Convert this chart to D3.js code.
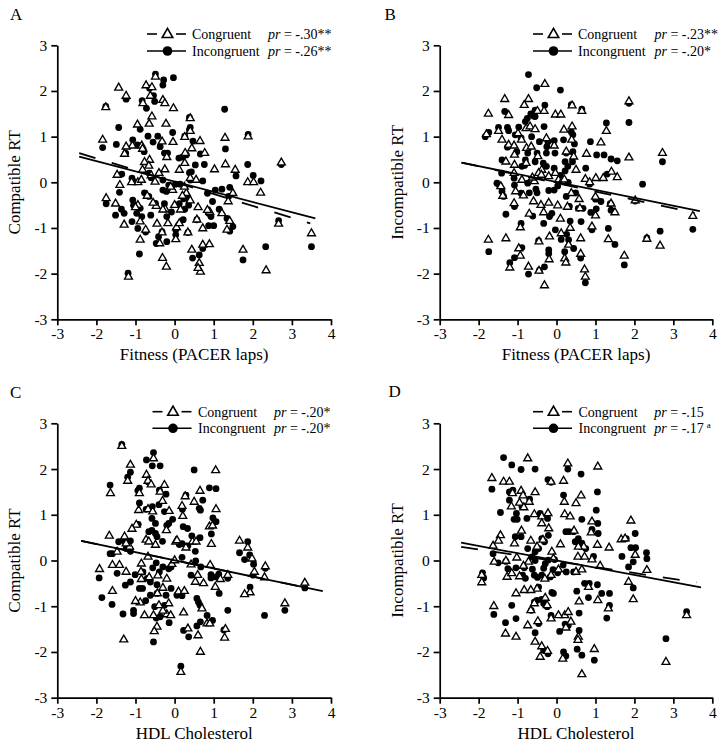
<!DOCTYPE html>
<html><head><meta charset="utf-8">
<script src="https://cdn.jsdelivr.net/npm/d3@7"></script>
<style>
body{margin:0;background:#fff}
svg text{font-family:"Liberation Serif","Times New Roman",serif;fill:#000}
</style></head>
<body><svg id="chart" width="724" height="750"></svg>
<script>
// ---------- data ----------
const panelLetters = ["A", "B", "C", "D"];
const xTitles = ["Fitness (PACER laps)", "Fitness (PACER laps)", "HDL Cholesterol", "HDL Cholesterol"];
const yTitles = ["Compatible RT", "Incompatible RT", "Compatible RT", "Incompatible RT"];
const xTicks = [-3, -2, -1, 0, 1, 2, 3, 4];
const yTicks = [-3, -2, -1, 0, 1, 2, 3];
const seriesNames = ["Congruent", "Incongruent"];
const prCongruent = ["-.30**", "-.23**", "-.20*", "-.15"];
const prIncongruent = ["-.26**", "-.20*", "-.20*", "-.17"];
const prIncongruentSup = ["", "", "", "a"];

const aCongruent = [[-0.49,2.31],[-1.43,2.07],[-0.73,2.12],[-0.58,2.08],[-1.24,1.89],[-1.76,1.64],[-0.81,1.73],[-0.62,1.89],[-0.3,1.8],[-0.25,1.73],[-0.03,1.62],[-0.58,1.44],[-0.65,1.28],[-0.22,1.28],[0.4,1.4],[0.4,1.12],[-0.95,1.26],[0.26,0.99],[1.88,1.0],[-1.84,0.93],[-1.08,0.8],[-0.84,0.8],[-0.32,0.89],[-0.04,0.88],[0.65,0.9],[0.77,0.64],[0.44,0.74],[1.29,0.97],[-1.24,0.78],[-1.28,0.62],[-0.82,0.73],[-0.64,0.49],[-0.77,0.44],[0.27,0.64],[0.26,0.42],[1.3,0.39],[1.02,0.28],[2.73,0.43],[1.55,0.27],[-1.47,0.16],[-0.82,0.27],[-0.66,0.36],[-0.25,0.28],[0.12,0.27],[-0.94,0.0],[-0.5,0.01],[-0.05,-0.17],[0.4,0.09],[1.87,0.0],[2.02,0.0],[2.2,-0.23],[-1.4,-0.06],[-1.75,-0.35],[-1.51,-0.47],[-1.29,-0.93],[-0.94,-0.5],[-0.88,-0.86],[-0.74,-1.04],[-0.88,-1.26],[-1.18,-2.07],[-0.7,-0.3],[-0.47,-0.52],[-0.45,-0.91],[-0.24,-0.59],[-0.17,-0.9],[-0.32,-1.1],[-0.38,-1.34],[-0.31,-1.66],[-0.21,-1.85],[0.05,-0.99],[0.03,-1.25],[0.12,-0.9],[0.3,-0.24],[0.4,-0.4],[0.2,-0.3],[0.34,-1.1],[0.57,-0.82],[0.72,-1.01],[0.9,-0.65],[0.84,-0.61],[1.49,-0.24],[1.37,-0.42],[1.21,-0.68],[1.41,-0.85],[1.34,-1.04],[0.44,-1.48],[0.72,-1.37],[0.89,-1.36],[0.63,-1.77],[0.66,-1.96],[0.6,-1.88],[1.75,-1.48],[2.34,-1.93],[2.66,-0.91],[3.5,-1.12],[-0.85,0.05],[-0.6,0.15],[-0.4,0.2],[-0.1,-0.1],[0.25,-0.1],[0.55,0.05],[-1.0,-0.55],[-0.55,-0.45],[0.0,-0.5],[-1.1,0.0],[-0.2,0.55],[0.15,-0.6],[0.6,-0.55],[-0.3,-0.6]];
const aIncongruent = [[-0.49,2.37],[-0.28,2.24],[-0.03,2.29],[-0.3,2.13],[-0.64,2.06],[-1.24,1.82],[-1.76,1.66],[-0.83,1.79],[-0.54,1.9],[-0.51,1.77],[1.28,1.6],[-0.72,1.62],[0.38,1.42],[0.4,1.2],[0.38,1.15],[-1.43,1.2],[-0.88,1.16],[-0.05,1.09],[0.26,1.01],[1.88,1.05],[-1.84,0.76],[-1.49,0.83],[-1.07,0.93],[-0.95,0.82],[-0.68,1.01],[-0.55,0.88],[-0.43,1.01],[-0.37,0.78],[-0.26,0.64],[-0.18,0.64],[0.66,0.62],[0.47,0.9],[1.3,0.73],[-1.25,0.64],[-0.78,0.67],[0.11,0.53],[0.2,0.55],[0.3,0.6],[0.53,0.38],[0.76,0.39],[1.87,0.39],[2.73,0.39],[1.57,0.14],[2.01,0.15],[-1.35,0.18],[-0.65,0.2],[-0.6,0.1],[0.38,0.21],[0.43,0.23],[-1.09,0.09],[-1.02,0.01],[-0.3,0.05],[-0.15,-0.06],[0.02,-0.04],[0.14,-0.04],[0.4,0.05],[0.72,0.03],[2.21,0.03],[-1.41,-0.22],[-1.75,-0.47],[-1.51,-0.72],[-1.36,-0.59],[-1.29,-0.68],[-1.07,-0.39],[-1.05,-0.5],[-0.88,-0.57],[-0.84,-0.75],[-0.97,-0.68],[-1.09,-0.86],[-0.94,-1.01],[-0.74,-1.09],[-0.9,-1.57],[-1.19,-1.99],[-0.77,-0.23],[-0.66,-0.31],[-0.49,-0.46],[-0.61,-0.72],[-0.3,-0.17],[-0.21,-0.2],[-0.26,-0.47],[-0.2,-0.75],[-0.08,-0.65],[-0.32,-1.08],[-0.41,-1.19],[-0.47,-1.34],[-0.2,-1.3],[0.03,-1.04],[0.03,-1.15],[0.12,-0.47],[0.23,-0.36],[0.36,-0.37],[0.36,-0.5],[0.26,-0.59],[0.22,-0.82],[0.34,-1.1],[0.57,-0.82],[0.87,-0.68],[0.93,-0.75],[0.87,-0.95],[1.0,-0.95],[0.97,-0.42],[0.84,-0.24],[1.04,-0.17],[1.21,-0.15],[1.41,-0.11],[1.38,-0.31],[1.14,-0.59],[1.34,-0.79],[1.41,-1.07],[1.49,-0.97],[0.46,-1.66],[0.72,-1.45],[0.63,-1.59],[1.75,-1.7],[2.33,-1.41],[2.66,-0.84],[3.5,-1.41]];

const bCongruent = [[-0.3,2.15],[-1.33,1.82],[-0.72,1.82],[-0.83,1.69],[-0.49,1.56],[-0.32,1.56],[0.4,1.68],[0.65,1.56],[-1.75,1.5],[-1.23,1.47],[-0.03,1.48],[0.11,1.48],[1.86,1.77],[1.28,1.12],[1.14,0.87],[-1.8,1.05],[-1.49,1.12],[-1.4,0.93],[-1.23,0.82],[-0.99,1.07],[-0.9,0.93],[-1.09,0.8],[-1.08,0.6],[-0.78,1.18],[-0.68,1.22],[-0.55,1.16],[-0.77,0.75],[-0.65,0.78],[-0.26,0.96],[-0.06,0.8],[0.19,1.15],[0.4,1.22],[0.39,0.93],[0.44,0.56],[0.25,0.67],[-0.48,0.57],[-0.38,0.27],[-0.46,0.2],[-0.78,0.42],[-1.08,0.38],[-1.3,0.45],[-1.09,0.2],[0.77,0.62],[0.74,0.07],[1.01,0.09],[1.2,0.09],[1.41,0.23],[1.56,0.11],[1.86,0.54],[2.72,0.64],[2.02,-0.4],[2.32,-1.24],[2.66,-1.39],[3.5,-0.74],[1.74,-1.61],[1.33,-1.25],[1.5,-0.66],[1.4,-0.47],[1.0,-0.32],[1.0,-0.73],[0.91,-0.97],[0.85,0.0],[0.5,0.27],[0.6,-0.57],[0.58,-0.37],[0.62,-1.23],[0.62,-1.57],[0.72,-1.91],[0.74,-2.07],[0.38,-0.24],[0.28,-0.54],[0.35,-1.0],[0.12,-1.12],[0.31,-1.37],[0.21,-1.67],[0.24,-1.76],[-0.19,-1.69],[-0.18,-1.19],[-0.45,-1.3],[-0.72,-1.85],[-0.45,-1.94],[-0.31,-2.26],[-0.93,-1.61],[-0.97,-1.45],[-1.2,-1.87],[-1.3,-1.23],[-1.75,-1.26],[-0.93,-0.99],[-1.09,-0.46],[-0.85,-0.29],[-0.59,-0.42],[-0.57,0.02],[-1.05,-0.2],[0.05,0.05],[0.14,0.02],[0.2,0.06],[-0.33,-0.66],[0.03,-0.51],[-1.43,-0.09],[-1.38,-0.3],[-0.89,0.05],[-0.62,0.1],[-0.39,0.16],[-0.2,0.13],[-0.03,0.2],[-0.7,-0.69],[-0.2,-0.45],[0.1,-0.8],[-0.4,-0.5]];
const bIncongruent = [[-0.72,2.36],[-0.51,2.07],[0.1,2.02],[-0.55,1.58],[-0.3,1.69],[0.38,1.7],[0.65,1.6],[-1.33,1.55],[-0.66,1.5],[-0.59,1.45],[-0.55,1.44],[-0.8,1.33],[-0.75,1.4],[1.86,1.73],[1.86,1.31],[1.28,1.3],[0.87,0.89],[-1.83,1.0],[-1.74,1.09],[-1.49,1.2],[-1.26,1.2],[-1.23,1.13],[-1.26,0.77],[-0.97,1.21],[-1.06,1.04],[-0.91,0.97],[-1.02,0.67],[-0.64,1.0],[-0.74,0.64],[-0.8,0.49],[-0.32,1.22],[-0.44,0.89],[-0.25,0.78],[-0.22,0.89],[-0.06,0.91],[0.18,0.93],[0.38,1.1],[0.42,1.04],[0.46,0.84],[0.42,0.67],[0.41,0.45],[0.25,0.64],[-0.04,0.64],[-0.26,0.64],[-0.5,0.64],[-0.34,0.42],[-0.26,0.35],[-0.55,0.45],[-0.89,0.35],[-0.82,0.37],[-1.4,0.49],[-1.41,0.2],[0.22,0.45],[0.29,0.35],[0.22,0.25],[0.75,0.31],[1.03,0.6],[1.22,0.6],[1.3,0.18],[1.4,0.51],[1.56,0.47],[2.72,0.45],[2.21,-0.04],[2.02,-0.41],[2.32,-1.22],[2.66,-1.07],[3.5,-1.03],[1.74,-1.81],[1.33,-1.01],[1.5,-1.36],[1.4,-0.61],[1.38,-0.47],[1.14,-0.42],[1.0,-0.37],[1.02,-0.58],[0.88,-0.66],[0.91,-1.04],[0.85,-0.04],[0.68,-0.57],[0.56,-0.57],[0.63,-0.86],[0.62,-1.66],[0.74,-2.2],[0.49,-0.23],[0.33,-0.53],[0.35,-0.85],[0.26,-1.14],[0.12,-1.25],[0.31,-1.26],[0.44,-1.45],[0.21,-1.52],[-0.2,-1.48],[-0.2,-1.56],[-0.46,-1.28],[-0.72,-2.01],[-0.44,-1.93],[-0.31,-1.85],[-0.89,-1.43],[-1.08,-1.65],[-1.2,-1.76],[-1.74,-1.52],[-1.3,-0.7],[-0.91,-0.9],[-1.08,-0.53],[-0.91,-0.24],[-0.61,-0.74],[-0.7,-0.23],[-0.53,-0.15],[-0.5,-0.23],[-0.06,-0.17],[-0.2,-0.18],[0.03,-0.08],[0.25,-0.31],[-0.33,-0.9],[-0.12,-0.68],[-0.18,-0.75],[-0.03,-1.04],[-1.53,-0.02],[-1.47,-0.06],[-1.4,-0.2],[-1.36,-0.31],[-1.09,0.09],[-1.08,-0.06],[-0.74,-0.02],[-0.06,0.31],[0.1,0.15],[0.3,0.0]];

const cCongruent = [[-1.35,2.5],[-0.54,2.23],[-1.13,2.09],[-1.2,1.74],[-0.72,1.87],[-0.68,1.74],[-0.6,1.66],[1.05,1.97],[-1.64,1.47],[-0.9,1.47],[-0.26,1.65],[-0.37,1.5],[0.65,1.52],[0.27,1.4],[0.5,1.28],[-0.92,1.1],[-0.68,1.12],[-0.56,1.07],[-0.31,1.3],[-0.14,1.08],[0.19,1.19],[0.21,0.97],[1.06,1.12],[0.89,0.74],[0.97,0.76],[0.94,0.36],[-0.98,0.78],[-0.49,0.34],[-0.21,0.66],[-1.09,0.69],[-1.28,0.52],[-1.15,0.3],[-1.47,0.19],[-1.67,0.54],[-0.73,0.45],[-0.66,0.41],[0.03,0.41],[0.06,0.44],[0.29,0.28],[0.46,0.41],[0.55,0.41],[1.66,0.43],[1.87,0.28],[1.98,0.04],[2.04,-0.25],[2.32,-0.13],[1.93,-0.7],[1.79,-0.74],[2.3,-0.37],[3.33,-0.49],[2.82,-0.94],[1.36,-0.32],[1.3,-1.5],[1.28,-1.69],[1.17,-0.41],[1.04,-0.58],[0.91,-0.1],[0.74,-0.5],[0.42,-0.09],[0.53,-0.47],[0.59,-0.32],[0.6,-1.64],[0.66,-2.0],[0.83,-1.38],[0.9,-1.38],[0.34,-1.49],[0.23,-1.14],[0.16,-2.44],[0.1,-0.68],[0.25,-0.67],[-0.07,-0.08],[-0.15,-0.94],[-0.2,-1.18],[-0.3,-1.1],[-0.43,-0.33],[-0.4,-0.98],[-0.44,-0.72],[-0.88,-0.92],[-0.85,-0.41],[-0.65,-0.37],[-0.77,-1.2],[-0.54,-1.2],[-0.45,-1.45],[-0.52,-1.55],[-1.0,-0.89],[-1.3,-1.73],[-1.59,-0.67],[-1.92,-0.19],[-1.41,-0.1],[-1.59,-0.1],[-1.24,0.37],[-1.24,-0.25],[-0.85,-0.07],[-0.86,-0.25],[-0.68,0.08],[-0.2,-0.4],[0.0,0.0],[-0.3,-0.6],[0.7,-1.05],[-0.1,-1.2]];
const cIncongruent = [[-1.35,2.54],[-0.54,2.36],[-0.72,2.2],[-0.57,2.07],[-0.37,2.07],[-1.13,1.93],[-1.2,1.82],[-0.68,1.72],[0.5,1.98],[-1.65,1.65],[-0.94,1.53],[-0.9,1.58],[-0.22,1.45],[-0.39,1.54],[0.72,1.32],[0.29,1.43],[0.89,1.59],[1.06,1.57],[-0.9,1.26],[-0.73,1.12],[-0.57,1.18],[-0.4,1.22],[-0.26,1.07],[-0.05,0.9],[0.2,1.12],[0.63,1.14],[0.66,1.1],[0.98,0.93],[1.06,0.85],[0.94,0.58],[-0.93,0.79],[-0.58,0.92],[-0.49,0.81],[-0.58,0.66],[-0.66,0.63],[-0.49,0.59],[-0.45,0.52],[-0.2,0.77],[-0.15,0.81],[-0.31,0.42],[-1.28,0.42],[-1.13,0.43],[-1.43,0.41],[-1.65,0.15],[-1.59,0.15],[0.22,0.74],[0.33,0.7],[0.12,0.35],[0.19,0.37],[0.34,0.32],[0.44,0.54],[0.65,0.5],[1.66,0.17],[1.87,0.41],[1.79,0.02],[1.92,0.12],[2.02,-0.08],[2.32,-0.17],[2.01,-0.32],[1.93,-0.58],[3.33,-0.6],[2.82,-1.09],[2.3,-1.2],[1.36,-0.39],[1.36,-1.09],[1.26,-1.52],[1.13,-0.3],[1.06,-0.36],[1.14,-0.72],[0.93,-0.31],[0.93,-0.38],[0.67,-0.14],[0.53,0.2],[0.54,-0.01],[0.42,-0.32],[0.57,-0.83],[0.61,-0.91],[0.65,-0.98],[0.57,-1.43],[0.66,-1.34],[0.83,-1.2],[0.97,-1.31],[0.36,-1.67],[0.23,-1.53],[0.16,-2.31],[0.19,-0.77],[0.06,-0.76],[0.19,0.07],[-0.09,-0.14],[-0.15,-0.18],[-0.09,-0.61],[-0.22,-0.76],[-0.14,-1.36],[-0.26,-0.98],[-0.3,-0.14],[-0.39,-0.25],[-0.47,-0.05],[-0.56,-0.16],[-0.45,-0.53],[-0.62,-0.47],[-0.45,-0.72],[-0.62,-0.76],[-0.74,-0.88],[-0.9,-0.61],[-0.7,-0.39],[-0.51,-1.01],[-0.47,-1.26],[-0.54,-1.78],[-0.37,-1.23],[-1.05,-1.09],[-1.05,-1.16],[-1.32,-1.17],[-1.6,-0.96],[-1.86,-0.81],[-1.93,-0.38],[-1.47,-0.28],[-1.24,0.26],[-1.13,0.2],[-1.26,-0.54],[-1.13,-0.47],[-1.01,-0.31],[-0.81,-0.25],[-0.82,-0.61]];

const dCongruent = [[-0.74,2.23],[0.29,2.12],[1.06,2.05],[-1.66,1.8],[-1.36,1.72],[-1.21,1.72],[-0.14,1.72],[0.18,1.74],[-1.13,1.47],[-0.91,1.52],[-0.86,1.42],[-0.55,1.49],[-0.7,1.28],[0.2,1.28],[0.5,1.25],[0.63,1.42],[-1.16,1.18],[-0.95,1.26],[-0.84,1.16],[-0.57,1.01],[-0.38,0.96],[-0.38,0.81],[-0.22,1.03],[0.21,1.01],[0.35,0.96],[0.91,0.85],[0.89,0.61],[1.05,0.34],[1.91,0.87],[1.66,0.46],[1.76,0.48],[2.02,0.12],[1.35,0.28],[2.32,-0.21],[1.85,-0.47],[1.97,-0.85],[3.34,-1.2],[2.81,-2.22],[0.91,0.02],[1.12,-0.12],[0.72,0.08],[0.7,0.3],[0.56,0.3],[0.45,0.65],[0.55,0.08],[0.5,-0.25],[0.65,-0.2],[0.82,-0.58],[1.06,-0.87],[1.33,-1.05],[0.58,-0.9],[0.56,-1.67],[0.55,-1.74],[0.65,-2.49],[0.97,-1.94],[0.16,-2.15],[0.24,-1.47],[0.37,-1.34],[0.21,-1.2],[0.05,-1.2],[0.3,-1.13],[0.05,-0.2],[-0.12,0.19],[-0.08,0.04],[-0.35,0.45],[-0.5,0.3],[-0.66,0.43],[-0.72,-0.03],[-0.85,-0.12],[-0.83,-0.65],[-0.3,-0.4],[-0.14,-0.32],[-0.5,-0.62],[-0.66,-0.65],[-0.57,-0.94],[-0.29,-0.82],[-0.24,-0.98],[-0.66,-1.09],[-0.48,-1.33],[-0.55,-1.78],[-0.74,-1.42],[-0.38,-1.88],[-0.42,-2.11],[-0.23,-1.98],[-0.14,-1.27],[-1.04,-0.72],[-1.04,-1.67],[-1.31,-1.6],[-1.61,-1.0],[-1.63,0.32],[-1.6,-0.03],[-1.44,0.55],[-1.49,0.43],[-1.3,-0.01],[-1.27,-0.36],[-1.08,0.37],[-1.15,-0.28],[-1.02,0.06],[-1.92,-0.32],[-1.92,-0.48],[-0.9,0.65],[-0.2,0.7],[0.1,0.35],[-0.95,-0.35]];
const dIncongruent = [[-1.36,2.25],[0.29,2.0],[-1.15,2.09],[-0.91,1.99],[-0.55,2.0],[0.63,1.89],[-1.66,1.56],[-0.22,1.77],[-0.14,1.71],[-1.12,1.54],[-1.21,1.5],[-0.69,1.34],[0.18,1.43],[1.05,1.5],[-1.21,1.32],[-0.89,1.18],[-1.44,1.05],[-1.03,1.03],[-1.09,0.9],[-1.01,0.9],[-0.76,0.92],[-0.42,1.03],[-0.23,0.92],[0.65,0.9],[1.02,1.1],[1.06,0.81],[0.91,0.68],[1.07,0.59],[2.02,0.59],[1.79,0.48],[1.91,0.28],[2.03,0.28],[1.68,0.09],[2.31,0.17],[2.32,0.04],[1.85,-0.14],[1.97,-0.03],[1.97,-0.6],[3.34,-1.12],[2.81,-1.71],[0.95,0.09],[0.75,0.26],[0.56,0.48],[0.65,0.38],[0.44,0.63],[0.32,0.63],[0.24,0.63],[0.48,0.41],[0.6,0.35],[0.44,-0.25],[0.72,-0.5],[0.84,-0.5],[0.82,-0.81],[1.05,-0.53],[1.16,-0.72],[1.36,-0.72],[1.36,-0.98],[1.29,-1.26],[0.52,-0.67],[0.58,-1.15],[0.58,-1.53],[0.53,-1.94],[0.65,-2.07],[0.97,-2.18],[0.18,-2.0],[0.24,-2.09],[0.22,-1.39],[0.3,-1.42],[0.08,-1.55],[0.17,-0.1],[0.25,-0.25],[0.03,-0.27],[-0.09,-0.2],[-0.21,0.01],[-0.05,0.02],[-0.21,0.55],[-0.31,0.41],[-0.38,0.48],[-0.46,0.26],[-0.55,0.19],[-0.74,0.26],[-0.63,0.08],[-0.55,0.0],[-0.83,-0.16],[-0.87,-0.32],[-0.8,-0.39],[-0.62,-0.19],[-0.57,-0.32],[-0.49,-0.37],[-0.38,-0.32],[-0.33,-0.17],[-0.29,-0.07],[-0.16,-0.36],[-0.46,-0.58],[-0.57,-0.91],[-0.5,-0.87],[-0.38,-0.85],[-0.33,-0.94],[-0.24,-1.01],[-0.12,-0.7],[-0.08,-0.72],[-0.65,-1.09],[-0.46,-1.38],[-0.55,-1.58],[-0.33,-1.96],[-0.22,-2.04],[-0.14,-1.2],[-1.15,-0.98],[-1.04,-1.27],[-1.31,-1.36],[-1.61,-1.18],[-1.63,0.15],[-1.5,-0.05],[-1.3,-0.02],[-1.25,-0.18],[-1.06,0.52],[-1.04,-0.16],[-1.9,-0.27],[-1.87,-0.38],[-0.91,0.52]];

// regression line end points (x, predicted y)
const aCongruentFit = [[-2.44, 0.64], [3.47, -0.9]];
const aIncongruentFit = [[-2.44, 0.56], [3.6, -0.79]];
const bCongruentFit = [[-2.44, 0.43], [3.55, -0.67]];
const bIncongruentFit = [[-2.44, 0.43], [3.68, -0.63]];
const cCongruentFit = [[-2.39, 0.43], [3.5, -0.62]];
const cIncongruentFit = [[-2.39, 0.43], [3.79, -0.67]];
const dCongruentFit = [[-2.45, 0.3], [3.6, -0.48]];
const dIncongruentFit = [[-2.45, 0.39], [3.71, -0.59]];

const congruentSets = [aCongruent, bCongruent, cCongruent, dCongruent];
const incongruentSets = [aIncongruent, bIncongruent, cIncongruent, dIncongruent];
const congruentFits = [aCongruentFit, bCongruentFit, cCongruentFit, dCongruentFit];
const incongruentFits = [aIncongruentFit, bIncongruentFit, cIncongruentFit, dIncongruentFit];

// ---------- layout ----------
const frames = [
  {x0: 57.3, x1: 331, top: 45.3, bot: 319.3, letterX: 10, letterY: 19.5, lx: 147, tx: 192, px: 268, r1: 34, r2: 51},
  {x0: 439.7, x1: 712.3, top: 45.3, bot: 319.3, letterX: 384.5, letterY: 19.5, lx: 533, tx: 578, px: 654.5, r1: 34, r2: 51},
  {x0: 57.3, x1: 331, top: 423.3, bot: 697.7, letterX: 10, letterY: 397.5, lx: 152.5, tx: 198, px: 274, r1: 411.7, r2: 428.3},
  {x0: 439.7, x1: 712.3, top: 423.3, bot: 697.7, letterX: 388.5, letterY: 397, lx: 533, tx: 578.5, px: 654.3, r1: 411.7, r2: 428.3}
];

const svg = d3.select("#chart");
svg.append("rect").attr("width", 724).attr("height", 750).attr("fill", "#fff");

const triSmall = d3.symbol().type(d3.symbolTriangle).size(27);
const triLegend = d3.symbol().type(d3.symbolTriangle).size(48);

panelLetters.forEach((letter, i) => {
  const f = frames[i];
  const x = d3.scaleLinear().domain([-3, 4]).range([f.x0, f.x1]);
  const y = d3.scaleLinear().domain([-3, 3]).range([f.bot, f.top]);
  const g = svg.append("g");

  // axes
  const gx = g.append("g").attr("transform", `translate(0,${f.bot})`)
    .call(d3.axisBottom(x).tickValues(xTicks).tickFormat(d => String(d)).tickSize(6).tickSizeOuter(0).tickPadding(3));
  const gy = g.append("g").attr("transform", `translate(${f.x0},0)`)
    .call(d3.axisLeft(y).tickValues(yTicks).tickFormat(d => String(d)).tickSize(6).tickSizeOuter(0).tickPadding(4));
  [gx, gy].forEach(a => {
    a.select(".domain").attr("stroke", "#000").attr("stroke-width", 1.7);
    a.selectAll(".tick line").attr("stroke", "#000").attr("stroke-width", 1.7);
    a.selectAll(".tick text").attr("font-size", 15.5).attr("fill", "#000")
      .style("font-family", '"Liberation Serif","Times New Roman",serif');
  });

  // titles
  g.append("text").attr("x", (f.x0 + f.x1) / 2).attr("y", f.bot + 41)
    .attr("text-anchor", "middle").attr("font-size", 17).text(xTitles[i]);
  g.append("text").attr("transform", `translate(${f.x0 - 37},${(f.top + f.bot) / 2}) rotate(-90)`)
    .attr("text-anchor", "middle").attr("font-size", 17).text(yTitles[i]);
  g.append("text").attr("x", f.letterX).attr("y", f.letterY).attr("font-size", 17).text(letter);

  // points
  g.append("g").selectAll("circle").data(incongruentSets[i]).join("circle")
    .attr("cx", d => x(d[0])).attr("cy", d => y(d[1])).attr("r", 3.4).attr("fill", "#000");
  g.append("g").selectAll("path").data(congruentSets[i]).join("path")
    .attr("d", triSmall).attr("transform", d => `translate(${x(d[0])},${y(d[1])})`)
    .attr("fill", "#fff").attr("stroke", "#000").attr("stroke-width", 1.35);

  // fit lines
  const line = d3.line().x(d => x(d[0])).y(d => y(d[1]));
  g.append("path").attr("d", line(congruentFits[i])).attr("fill", "none")
    .attr("stroke", "#000").attr("stroke-width", 1.8).attr("stroke-dasharray", "17,17");
  g.append("path").attr("d", line(incongruentFits[i])).attr("fill", "none")
    .attr("stroke", "#000").attr("stroke-width", 1.8);

  // legend
  const lg = g.append("g");
  lg.append("line").attr("x1", f.lx).attr("x2", f.lx + 10).attr("y1", f.r1).attr("y2", f.r1).attr("stroke", "#000").attr("stroke-width", 1.6);
  lg.append("line").attr("x1", f.lx + 29).attr("x2", f.lx + 39).attr("y1", f.r1).attr("y2", f.r1).attr("stroke", "#000").attr("stroke-width", 1.6);
  lg.append("path").attr("d", triLegend).attr("transform", `translate(${f.lx + 20.5},${f.r1 + 0.5})`)
    .attr("fill", "#fff").attr("stroke", "#000").attr("stroke-width", 1.6);
  lg.append("line").attr("x1", f.lx).attr("x2", f.lx + 39).attr("y1", f.r2).attr("y2", f.r2).attr("stroke", "#000").attr("stroke-width", 1.6);
  lg.append("circle").attr("cx", f.lx + 20.5).attr("cy", f.r2).attr("r", 4.8).attr("fill", "#000");

  lg.append("text").attr("x", f.tx).attr("y", f.r1 + 5).attr("font-size", 14).text(seriesNames[0]);
  lg.append("text").attr("x", f.tx).attr("y", f.r2 + 5).attr("font-size", 14).text(seriesNames[1]);

  const t1 = lg.append("text").attr("x", f.px).attr("y", f.r1 + 5).attr("font-size", 14);
  t1.append("tspan").attr("font-style", "italic").text("pr");
  t1.append("tspan").text(" = " + prCongruent[i]);
  const t2 = lg.append("text").attr("x", f.px).attr("y", f.r2 + 5).attr("font-size", 14);
  t2.append("tspan").attr("font-style", "italic").text("pr");
  t2.append("tspan").text(" = " + prIncongruent[i]);
  if (prIncongruentSup[i]) {
    t2.append("tspan").attr("font-size", 9).attr("dx", 3).attr("dy", -5).text(prIncongruentSup[i]);
  }
});
</script>
</body></html>
